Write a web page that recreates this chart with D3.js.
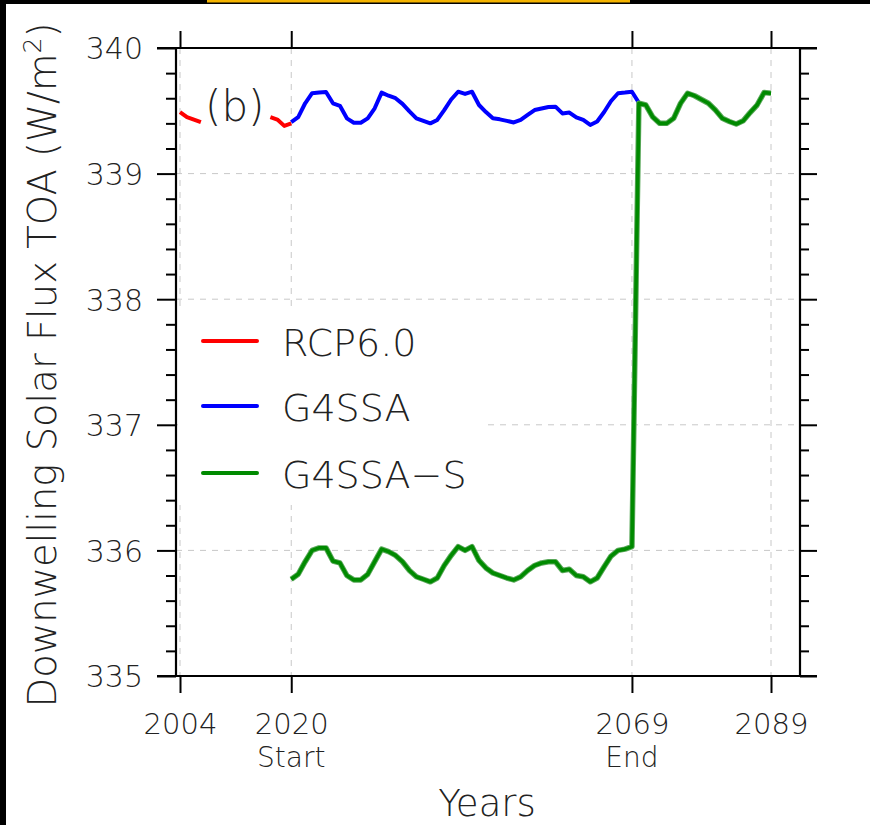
<!DOCTYPE html>
<html><head><meta charset="utf-8">
<script src="https://cdn.jsdelivr.net/npm/d3@7"></script>
<style>
html,body{margin:0;padding:0;background:#fff;}
svg{display:block;}
text{font-family:"DejaVu Sans",sans-serif;font-weight:200;fill:#222;}
</style></head><body>
<svg id="c" width="870" height="825"></svg>
<script>
// ---- data ----
const rcpYears = [2004,2005,2006,2007,2008,2009,2010,2011,2012,2013,2014,2015,2016,2017,2018,2019,2020];
const rcpValues = [339.49,339.45,339.43,339.41,null,null,null,null,null,null,null,null,null,339.45,339.43,339.38,339.40];

const g4Years = [2020,2021,2022,2023,2024,2025,2026,2027,2028,2029,2030,2031,2032,2033,2034,2035,2036,2037,2038,2039,2040,2041,2042,2043,2044,2045,2046,2047,2048,2049,2050,2051,2052,2053,2054,2055,2056,2057,2058,2059,2060,2061,2062,2063,2064,2065,2066,2067,2068,2069,2070];
const g4Values = [339.41,339.45,339.56,339.64,339.645,339.65,339.56,339.54,339.44,339.405,339.405,339.44,339.52,339.645,339.62,339.60,339.555,339.495,339.44,339.42,339.40,339.427,339.506,339.59,339.652,339.634,339.652,339.546,339.49,339.44,339.432,339.42,339.407,339.427,339.467,339.506,339.518,339.53,339.533,339.479,339.486,339.447,339.427,339.387,339.415,339.49,339.578,339.64,339.645,339.652,339.564];

const g4sYears = [2020,2021,2022,2023,2024,2025,2026,2027,2028,2029,2030,2031,2032,2033,2034,2035,2036,2037,2038,2039,2040,2041,2042,2043,2044,2045,2046,2047,2048,2049,2050,2051,2052,2053,2054,2055,2056,2057,2058,2059,2060,2061,2062,2063,2064,2065,2066,2067,2068,2069,2070,2071,2072,2073,2074,2075,2076,2077,2078,2079,2080,2081,2082,2083,2084,2085,2086,2087,2088,2089];
const g4sValues = [335.77,335.81,335.91,336.00,336.02,336.02,335.915,335.90,335.80,335.765,335.765,335.81,335.91,336.01,335.99,335.96,335.91,335.84,335.79,335.77,335.75,335.78,335.88,335.96,336.03,336.00,336.03,335.92,335.86,335.82,335.80,335.78,335.765,335.79,335.84,335.88,335.90,335.91,335.91,335.84,335.85,335.80,335.79,335.75,335.78,335.87,335.955,336.00,336.01,336.03,339.56,339.546,339.45,339.40,339.40,339.44,339.56,339.64,339.62,339.59,339.56,339.506,339.44,339.415,339.395,339.42,339.486,339.546,339.645,339.64];

const seriesNames = ["RCP6.0","G4SSA","G4SSA\u2212S"];
const seriesColors = ["#ff0000","#0000ff","#008a00"];
const yTicks = [335,336,337,338,339,340];
const xTicks = [2004,2020,2069,2089];
const xSubLabels = {2020:"Start",2069:"End"};

// ---- drawing ----
const svg = d3.select("#c");
svg.append("rect").attr("x",0).attr("y",0).attr("width",870).attr("height",4).attr("fill","#000");
svg.append("rect").attr("x",0).attr("y",0).attr("width",6).attr("height",825).attr("fill","#000");
svg.append("rect").attr("x",207).attr("y",0).attr("width",423).attr("height",2.5).attr("fill","#f5b400");

const L=176, R=800, T=48, B=676;
const x = d3.scaleLinear().domain([2004,2089]).range([180,771]);
const y = d3.scaleLinear().domain([335,340]).range([B,T]);

// grid
const grid = svg.append("g").attr("stroke","#c8c8c8").attr("stroke-width",1).attr("stroke-dasharray","6,6");
xTicks.forEach(t=>grid.append("line").attr("x1",x(t)).attr("x2",x(t)).attr("y1",T).attr("y2",B));
yTicks.filter(t=>t>335&&t<340).forEach(t=>grid.append("line").attr("x1",L).attr("x2",R).attr("y1",y(t)).attr("y2",y(t)));

// legend box (white, hides grid)
svg.append("rect").attr("x",178).attr("y",306).attr("width",309).attr("height",199).attr("fill","#fff");

// lines
const line = d3.line().defined(d=>d[1]!==null).x(d=>x(d[0])).y(d=>y(d[1]));
const rcp = rcpYears.map((d,i)=>[d,rcpValues[i]]);
const g4 = g4Years.map((d,i)=>[d,g4Values[i]]);
const g4s = g4sYears.map((d,i)=>[d,g4sValues[i]]);
svg.append("path").datum(rcp).attr("d",line).attr("fill","none").attr("stroke",seriesColors[0]).attr("stroke-width",4).attr("stroke-linejoin","round");
svg.append("path").datum(g4).attr("d",line).attr("fill","none").attr("stroke",seriesColors[1]).attr("stroke-width",4).attr("stroke-linejoin","round");
svg.append("path").datum(g4s).attr("d",line).attr("fill","none").attr("stroke","#5aa85a").attr("stroke-width",5.5).attr("stroke-linejoin","round");
svg.append("path").datum(g4s).attr("d",line).attr("fill","none").attr("stroke",seriesColors[2]).attr("stroke-width",3.6).attr("stroke-linejoin","round");

// (b) label
svg.append("text").attr("x",205).attr("y",121).attr("font-size",42).text("(b)");

// axes
function styleAxis(g){g.select(".domain").remove();g.selectAll("line").attr("stroke","#000").attr("stroke-width",2);}
const minor = d3.range(335,340.001,0.2).map(v=>+v.toFixed(1)).filter(v=>!yTicks.includes(v));
svg.append("g").attr("transform",`translate(${L},0)`).call(d3.axisLeft(y).tickValues(minor).tickSize(10).tickFormat("")).call(styleAxis);
svg.append("g").attr("transform",`translate(${L},0)`).call(d3.axisLeft(y).tickValues(yTicks).tickSize(19).tickPadding(14).tickFormat(d3.format("d"))).call(styleAxis)
  .selectAll("text").attr("font-size",30).attr("font-family","'DejaVu Sans',sans-serif").attr("font-weight",200).attr("fill","#222").attr("dy","0.36em");
svg.append("g").attr("transform",`translate(${R},0)`).call(d3.axisRight(y).tickValues(minor).tickSize(9).tickFormat("")).call(styleAxis);
svg.append("g").attr("transform",`translate(${R},0)`).call(d3.axisRight(y).tickValues(yTicks).tickSize(17).tickFormat("")).call(styleAxis);
svg.append("g").attr("transform",`translate(0,${T})`).call(d3.axisTop(x).tickValues(xTicks).tickSize(17).tickFormat("")).call(styleAxis);
const bx = svg.append("g").attr("transform",`translate(0,${B})`).call(d3.axisBottom(x).tickValues(xTicks).tickSize(17).tickPadding(20).tickFormat(d3.format("d"))).call(styleAxis);
bx.selectAll("text").attr("font-size",29).attr("font-family","'DejaVu Sans',sans-serif").attr("font-weight",200).attr("fill","#222");
// frame
svg.append("g").attr("stroke","#000").attr("stroke-width",2.2).call(g=>{
  g.append("line").attr("x1",L).attr("x2",L).attr("y1",T-1).attr("y2",B+1);
  g.append("line").attr("x1",R).attr("x2",R).attr("y1",T-1).attr("y2",B+1);
  g.append("line").attr("x1",L-19).attr("x2",R+17).attr("y1",T).attr("y2",T);
  g.append("line").attr("x1",L-19).attr("x2",R+17).attr("y1",B).attr("y2",B);
});
Object.entries(xSubLabels).forEach(([yr,lab])=>{
  svg.append("text").attr("x",x(+yr)).attr("y",767).attr("text-anchor","middle").attr("font-size",28).text(lab);
});

// axis titles
svg.append("text").attr("x",487).attr("y",816).attr("text-anchor","middle").attr("font-size",37).text("Years");
const yt = svg.append("text").attr("transform","translate(56,365) rotate(-90)").attr("text-anchor","middle").attr("font-size",38.5);
yt.append("tspan").text("Downwelling Solar Flux TOA (W/m");
yt.append("tspan").attr("dy",-15).attr("font-size",25).text("2");
yt.append("tspan").attr("dy",15).text(")");

// legend
const legY = [341,406,473];
seriesNames.forEach((n,i)=>{
  svg.append("line").attr("x1",203).attr("x2",257).attr("y1",legY[i]).attr("y2",legY[i]).attr("stroke",seriesColors[i]).attr("stroke-width",4).attr("stroke-linecap","round");
  svg.append("text").attr("x",282).attr("y",legY[i]+15).attr("font-size",38).text(n);
});
</script></body></html>
